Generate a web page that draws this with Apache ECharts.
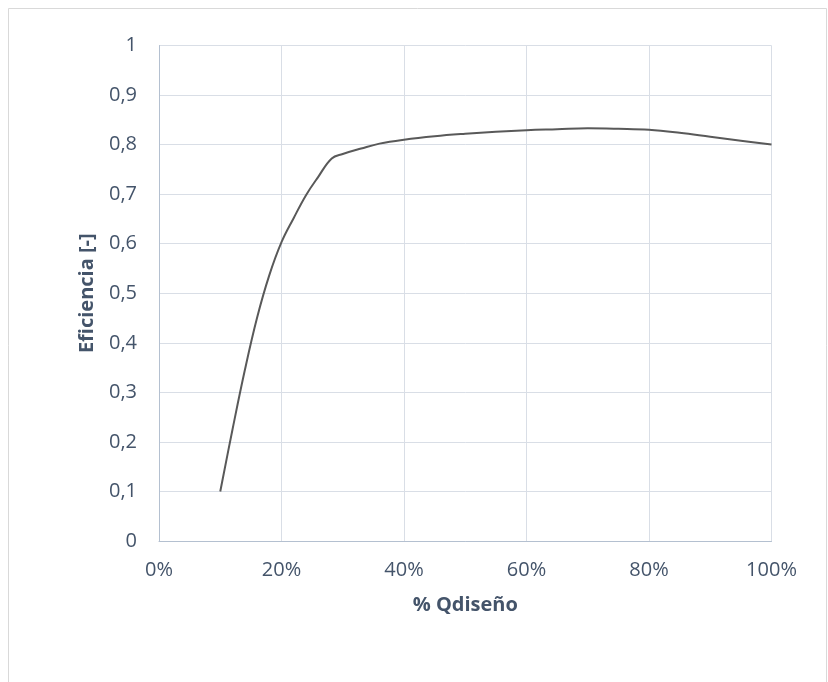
<!DOCTYPE html>
<html>
<head>
<meta charset="utf-8">
<script src="https://cdn.jsdelivr.net/npm/echarts@6/dist/echarts.min.js"></script>
<style>
  html, body { margin: 0; padding: 0; background: #ffffff; }
  #chart { width: 828px; height: 682px; }
</style>
</head>
<body>
<div id="chart"></div>
<script>
// Caudal como porcentaje del caudal de diseño
const caudalPct = [10, 12, 14, 16, 18, 20, 22, 24, 26, 28.2, 30, 33, 36, 40, 45, 50, 55, 60, 65, 70, 75, 80, 85, 90, 95, 100];
// Eficiencia correspondiente [-]
const eficiencia = [0.100, 0.225, 0.344, 0.450, 0.536, 0.603, 0.652, 0.698, 0.735, 0.772, 0.781, 0.792, 0.802, 0.810, 0.817, 0.822, 0.826, 0.829, 0.831, 0.833, 0.832, 0.830, 0.824, 0.816, 0.808, 0.800];

const ejeX = { min: 0, max: 100, interval: 20 };
const ejeY = { min: 0, max: 1, interval: 0.1 };

const textColor = '#44546A';
const gridColor = '#D9DEE6';
const font = '"Open Sans", "DejaVu Sans", sans-serif';

const puntos = caudalPct.map((x, i) => [x, eficiencia[i]]);

const chart = echarts.init(document.getElementById('chart'), null, { renderer: 'canvas' });
chart.setOption({
  animation: false,
  backgroundColor: '#ffffff',
  graphic: [{
    type: 'rect',
    shape: { x: 8.5, y: 8.5, width: 818, height: 690 },
    style: { fill: 'none', stroke: '#D9D9D9', lineWidth: 1 },
    silent: true
  }],
  grid: { left: 159, right: 56.5, top: 45.5, bottom: 141 },
  xAxis: {
    type: 'value',
    min: ejeX.min, max: ejeX.max, interval: ejeX.interval,
    name: '% Qdiseño',
    nameLocation: 'middle',
    nameGap: 54,
    nameTextStyle: { color: textColor, fontFamily: font, fontSize: 20, fontWeight: 'bold' },
    axisLine: { show: true, lineStyle: { color: '#B4C0D0', width: 1 } },
    axisTick: { show: false },
    axisLabel: {
      color: textColor, fontFamily: font, fontSize: 20, margin: 19,
      formatter: v => v + '%'
    },
    splitLine: { show: true, lineStyle: { color: gridColor, width: 1 } }
  },
  yAxis: {
    type: 'value',
    min: ejeY.min, max: ejeY.max, interval: ejeY.interval,
    name: 'Eficiencia [-]',
    nameLocation: 'middle',
    nameGap: 62,
    nameTextStyle: { color: textColor, fontFamily: font, fontSize: 20, fontWeight: 'bold' },
    axisLine: { show: true, lineStyle: { color: '#B4C0D0', width: 1 } },
    axisTick: { show: false },
    axisLabel: {
      color: textColor, fontFamily: font, fontSize: 20, margin: 22,
      formatter: v => {
        const r = Math.round(v * 10) / 10;
        return r === 0 ? '0' : r === 1 ? '1' : r.toFixed(1).replace('.', ',');
      }
    },
    splitLine: { show: true, lineStyle: { color: gridColor, width: 1 } }
  },
  series: [{
    type: 'line',
    data: puntos,
    smooth: 0.4,
    showSymbol: false,
    lineStyle: { color: '#595959', width: 2 }
  }]
});
</script>
</body>
</html>
